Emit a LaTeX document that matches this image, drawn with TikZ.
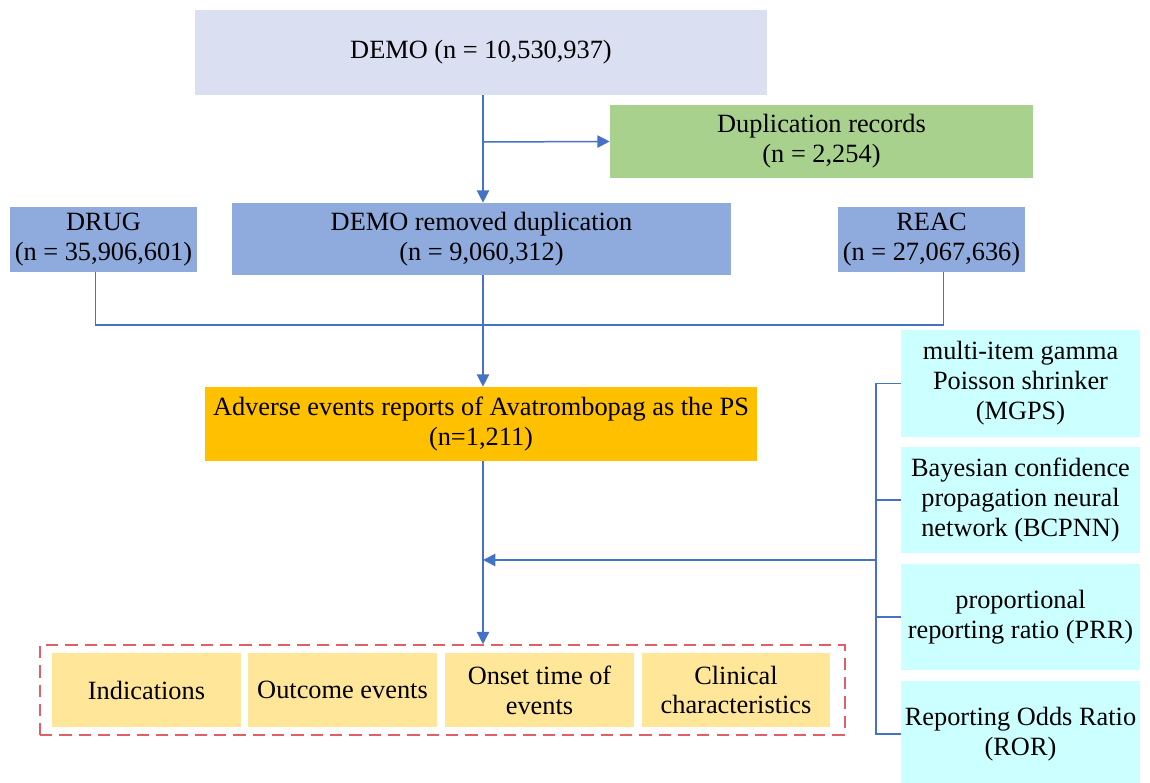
\documentclass[tikz,border=0pt]{standalone}
\usepackage{fontspec}
\setmainfont{Liberation Serif}
\usetikzlibrary{positioning,calc,arrows.meta}
\definecolor{linec}{RGB}{68,114,196}
\definecolor{democ}{RGB}{218,224,242}
\definecolor{dupc}{RGB}{169,209,142}
\definecolor{filec}{RGB}{143,170,220}
\definecolor{aec}{RGB}{255,192,0}
\definecolor{algc}{RGB}{204,255,255}
\definecolor{outc}{RGB}{255,230,153}
\definecolor{framec}{RGB}{224,96,104}

\begin{document}
\begin{tikzpicture}[x=0.02cm,y=-0.02cm]
\tikzstyle{box}=[rectangle,inner sep=0pt,align=center,text=black,font=\fontsize{15}{17}\selectfont];
\tikzstyle{alg}=[box,fill=algc,minimum width=4.78cm,minimum height=2.14cm];
\tikzstyle{outbox}=[box,fill=outc,minimum width=3.78cm,minimum height=1.48cm];
\tikzstyle{link}=[draw=linec,line width=0.85pt];
\tikzstyle{arr}=[link,-{Triangle[length=7pt,width=7pt]}];

\useasboundingbox (0,0) rectangle (1150,783);

\begin{scope}
        % data files
        \node[box,fill=democ,minimum width=11.44cm,minimum height=1.7cm] (demo) at (481,52.5) {DEMO (n = 10,530,937)};
        \node[box,fill=dupc,minimum width=8.46cm,minimum height=1.46cm] (dup) at (821.5,141.5) {Duplication records\\(n = 2,254)};
        \node[box,fill=filec,minimum width=3.74cm,minimum height=1.3cm] (drug) at (103.5,239.5) {DRUG\\(n = 35,906,601)};
        \node[box,fill=filec,minimum width=9.98cm,minimum height=1.44cm] (demorm) at (481.5,239) {DEMO removed duplication\\(n = 9,060,312)};
        \node[box,fill=filec,minimum width=3.74cm,minimum height=1.3cm] (reac) at (931.5,239.5) {REAC\\(n = 27,067,636)};
        \node[box,fill=aec,minimum width=11.04cm,minimum height=1.48cm] (ae) at (481,424) {Adverse events reports of Avatrombopag as the PS\\(n=1,211)};

        % signal methods
        \node[alg] (mgps) at (1020.5,383.5) {multi-item gamma\\Poisson shrinker\\(MGPS)};
        \node[alg] (bcpnn) at (1020.5,500) {Bayesian confidence\\propagation neural\\network (BCPNN)};
        \node[alg] (prr) at (1020.5,617) {proportional\\reporting ratio (PRR)};
        \node[alg] (ror) at (1020.5,734) {Reporting Odds Ratio\\(ROR)};

        % results
        \node[draw=framec,dashed,dash pattern=on 7pt off 4pt,line width=0.9pt,minimum width=16.1cm,minimum height=1.8cm] (frame) at (442.5,690) {};
        \node[outbox] (ind) at (146.5,690) {Indications};
        \node[outbox] (outc) at (342.5,690) {Outcome events};
        \node[outbox] (onset) at (539.5,690) {Onset time of\\events};
        \node[outbox] (clin) at (736,690) {Clinical\\characteristics};

        \coordinate (br) at (483,142);
        \coordinate (join) at (483,325);
        \coordinate (rb) at (876,560);

        \draw[arr] (br |- demo.south) -- (br |- demorm.north);
        \draw[arr] (br) -- (dup.west);
        \draw[link] ($(drug.south)+(-8,0)$) |- (join) -| ($(reac.south)+(12,0)$);
        \draw[arr] (join |- demorm.south) -- (join |- ae.north);
        \draw[link] (mgps.west) -| (rb) |- (ror.west);
        \draw[link] (bcpnn.west) -- (bcpnn.west -| rb);
        \draw[link] (prr.west) -- (prr.west -| rb);
        \draw[arr] (rb) -- (rb -| join);
        \draw[arr] (join |- ae.south) -- (join |- frame.north);
\end{scope}

\end{tikzpicture}
\end{document}
